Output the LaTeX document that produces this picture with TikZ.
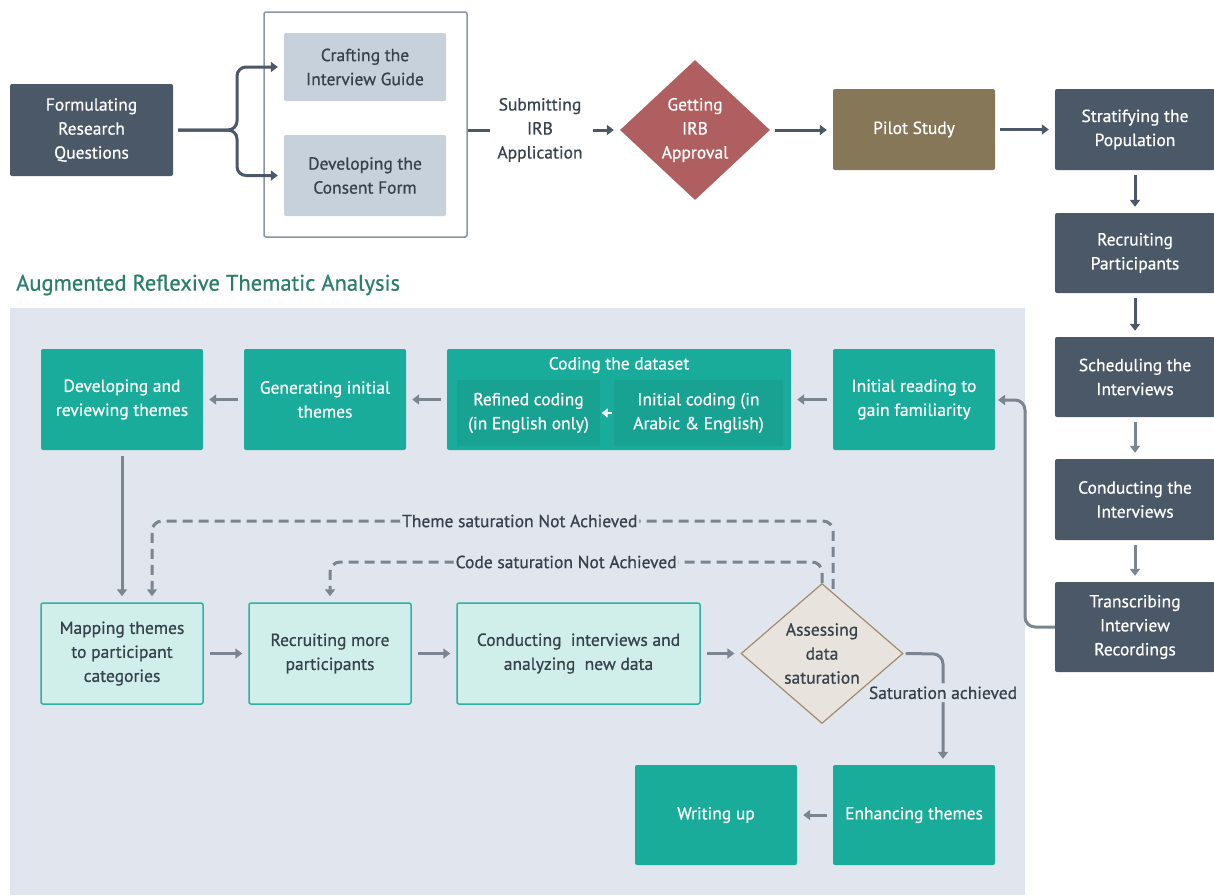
\documentclass[tikz,border=0pt]{standalone}
\usepackage{fontspec}
\setmainfont{PT Sans}[FakeBold=0.7]
\usetikzlibrary{shapes.geometric,arrows.meta,calc}
\definecolor{slate}{HTML}{4A5867}
\definecolor{lgray}{HTML}{C6D1DB}
\definecolor{irbred}{HTML}{B05F60}
\definecolor{pilotc}{HTML}{877759}
\definecolor{tealc}{HTML}{1AAC9B}
\definecolor{tealdk}{HTML}{18A292}
\definecolor{lteal}{HTML}{D0EFEB}
\definecolor{tealbd}{HTML}{2BB3A2}
\definecolor{panelc}{HTML}{E1E6EE}
\definecolor{arrg}{HTML}{7A8591}
\definecolor{sand}{HTML}{E8E3DD}
\definecolor{sandbd}{HTML}{A08C6C}
\definecolor{titlec}{HTML}{2B7D6C}
\definecolor{txtc}{HTML}{36414C}
\definecolor{grpbd}{HTML}{8A96A2}
\tikzset{
  every node/.style={font=\fontsize{17.5}{24}\selectfont, align=center, inner sep=0pt},
  box/.style={rectangle, rounded corners=2pt, minimum width=162pt, minimum height=101pt},
  darkbox/.style={box, fill=slate, text=white},
  graybox/.style={box, fill=lgray, text=txtc},
  tealbox/.style={box, fill=tealc, text=white},
  ltealbox/.style={box, fill=lteal, draw=tealbd, line width=1.5pt, text=txtc},
  darr/.style={draw=slate, line width=3pt, -{Triangle[width=10pt,length=7pt]}, shorten >=6pt, shorten <=5pt},
  garr/.style={draw=arrg, line width=3pt, -{Triangle[width=10pt,length=7pt]}, shorten >=6pt, shorten <=6pt},
  dsh/.style={draw=arrg, line width=3pt, dash pattern=on 10pt off 6pt, -{Triangle[width=10pt,length=7pt]}, shorten >=6pt, rounded corners=10pt},
  lbl/.style={fill=panelc, text=txtc, inner xsep=2pt, inner ysep=3pt}
}
\begin{document}
\begin{tikzpicture}[x=1pt,y=-1pt]
\useasboundingbox (0,0) rectangle (1214,895);
% top row
\node[darkbox, minimum width=163pt, minimum height=92pt] (fq) at (91.5,130) {Formulating\\Research\\Questions};
\node[rectangle, rounded corners=2pt, draw=grpbd, line width=1.5pt, fill=white, minimum width=203pt, minimum height=225pt] (grp) at (365.5,124.5) {};
\node[graybox, minimum height=68pt] (cig) at (365,67) {Crafting the\\Interview Guide};
\node[graybox, minimum height=81pt] (dcf) at (365,175.5) {Developing the\\Consent Form};
\node[text=txtc] (sub) at (540,130) {Submitting\\IRB\\Application};
\node[diamond, fill=irbred, text=white, minimum width=150pt, minimum height=140pt, aspect=1.07] (irb) at (695,130) {Getting\\IRB\\Approval};
\node[box, fill=pilotc, text=white, minimum height=81pt] (pilot) at (914,129.5) {Pilot Study};
\node[darkbox, minimum width=160pt, minimum height=81pt] (strat) at (1135,129.5) {Stratifying the\\Population};
\node[darkbox, minimum width=160pt, minimum height=80pt] (rp) at (1135,253) {Recruiting\\Participants};
\node[darkbox, minimum width=160pt, minimum height=80pt] (sch) at (1135,377) {Scheduling the\\Interviews};
\node[darkbox, minimum width=160pt, minimum height=81pt] (con) at (1135,499.5) {Conducting the\\Interviews};
\node[darkbox, minimum width=160pt, minimum height=90pt] (tr) at (1135,627) {Transcribing\\Interview\\Recordings};
\coordinate (br) at (237,130);
\draw[darr, rounded corners=9pt] (fq.east) -- (br) |- (cig.west);
\draw[darr, rounded corners=9pt] (fq.east) -- (br) |- (dcf.west);
\draw[draw=slate, line width=3pt] (grp.east |- fq.east) -- ++(22,0);
\draw[darr] (588,130) -- (irb.west);
\draw[darr] (irb.east) -- (pilot.west |- irb.east);
\draw[darr] (pilot.east) -- (strat.west);
\draw[darr] (strat.south) -- (rp.north);
\draw[darr] (rp.south) -- (sch.north);
\draw[darr, draw=arrg] (sch.south) -- (con.north);
\draw[darr, draw=arrg] (con.south) -- (tr.north);
% panel
\fill[panelc] (10,308) rectangle (1025,895);
\node[anchor=west, text=titlec, font=\fontsize{22.5}{26}\selectfont] (title) at (16,285) {Augmented Reflexive Thematic Analysis};
\node[tealbox] (dev) at (122,399.5) {Developing and\\reviewing themes};
\node[tealbox] (gen) at (325,399.5) {Generating initial\\themes};
\node[tealbox, minimum width=344pt] (cod) at (619,399.5) {};
\node[text=white, anchor=north] (codt) at ($(cod.north)+(0,8)$) {Coding the dataset};
\node[box, fill=tealdk, text=white, minimum width=143pt, minimum height=66pt] (ref) at (528.5,413) {Refined coding\\(in English only)};
\node[box, fill=tealdk, text=white, minimum width=169pt, minimum height=66pt] (ini) at (698.5,413) {Initial coding (in\\Arabic \& English)};
\node[tealbox] (rd) at (914,399.5) {Initial reading to\\gain familiarity};
\coordinate (rdin) at (995,400);
\draw[garr, shorten <=0pt, shorten >=3pt, rounded corners=10pt] (tr.west) -- (1025,627) -- (1025,400) -- (rdin);
\draw[draw=white, line width=2.5pt, -{Triangle[width=9pt,length=6pt]}, shorten >=1.5pt, shorten <=2pt] (ini.west) -- (ref.east);
\draw[garr] (rd.west) -- (cod.east);
\draw[garr] (cod.west) -- (gen.east);
\draw[garr] (gen.west) -- (dev.east);
\node[ltealbox] (map) at (122,653.5) {Mapping themes\\to participant\\categories};
\node[ltealbox] (rmp) at (330,653.5) {Recruiting more\\participants};
\node[ltealbox, minimum width=243pt] (cia) at (578.5,653.5) {Conducting\ \ interviews and\\analyzing\ \ new data};
\node[diamond, fill=sand, draw=sandbd, line width=1.2pt, text=txtc, minimum width=162pt, minimum height=140pt, aspect=1.16] (sat) at (822,653.5) {Assessing\\data\\saturation};
\node[tealbox, minimum height=100pt] (enh) at (914,815) {Enhancing themes};
\node[tealbox, minimum height=100pt] (wr) at (716,815) {Writing up};
\draw[garr] (dev.south) -- (map.north);
\draw[garr] (map.east) -- (rmp.west);
\draw[garr] (rmp.east) -- (cia.west);
\draw[garr] (cia.east) -- (sat.west);
\draw[garr] (enh.west) -- (wr.east);
\coordinate (sa) at (943,654);
\draw[garr, rounded corners=10pt, shorten <=2pt] (sat.east) -- (sa) -- node[lbl, pos=0.35]{Saturation achieved} (sa |- enh.north);
\coordinate (ts) at ($(sat.north)+(11,6)$);
\coordinate (t1) at (833,521);
\coordinate (t2) at (152,521);
\draw[dsh] (ts) -- (t1) -- node[lbl, pos=0.46]{Theme saturation Not Achieved} (t2) -- (t2 |- map.north);
\coordinate (cs) at (sat.north);
\coordinate (c1) at (822,562);
\coordinate (c2) at (330,562);
\draw[dsh] (cs) -- (c1) -- node[lbl, pos=0.52]{Code saturation Not Achieved} (c2) -- (rmp.north);
\end{tikzpicture}
\end{document}
